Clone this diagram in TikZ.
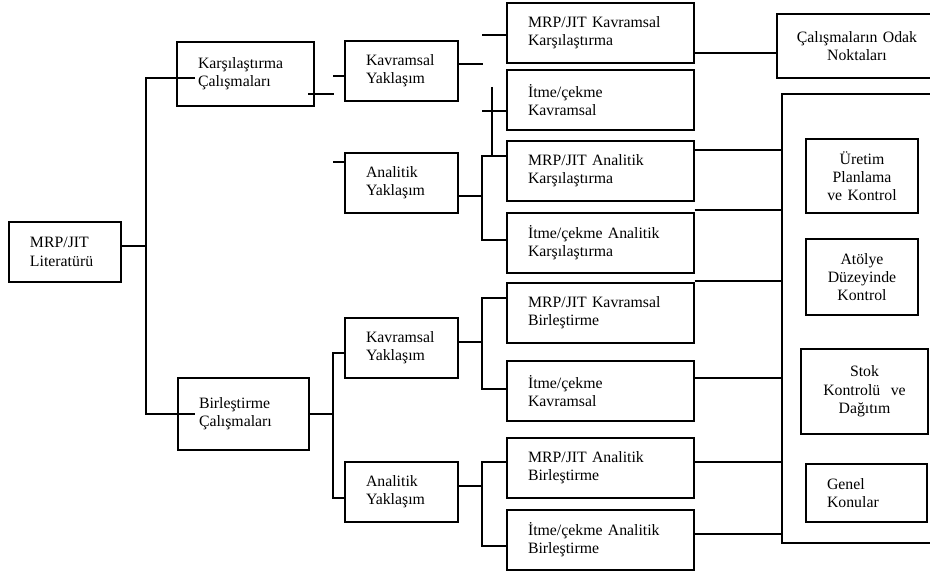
\documentclass[tikz,border=0pt]{standalone}
\usepackage{fontspec}
\setmainfont{Liberation Serif}
\usepackage{tikz}
\hyphenpenalty=10000

\tikzset{
  kutu/.style={draw, black, line width=1.4pt, inner xsep=21pt, align=left},
  orta/.style={draw, black, line width=1.4pt, inner xsep=4pt, align=center},
  hat/.style={black, line width=1.4pt}
}

\begin{document}
\begin{tikzpicture}[x=1pt, y=-1pt, font=\fontsize{15.8}{18.3}\selectfont]
\useasboundingbox (0,0) rectangle (930,572);

% kutular
\node[kutu, text width=70pt, minimum height=60pt] (lit) at (65,252) {MRP/JIT\\Literatürü};
\node[kutu, text width=95pt, minimum height=64pt] (kars) at (245.5,74) {Karşılaştırma\\Çalışmaları};
\node[kutu, text width=89pt, minimum height=72pt] (birl) at (243.5,414) {Birleştirme\\Çalışmaları};
\node[kutu, text width=71pt, minimum height=60pt] (kavA) at (401.5,71) {Kavramsal\\Yaklaşım};
\node[kutu, text width=71pt, minimum height=60pt] (anaA) at (401.5,183) {Analitik\\Yaklaşım};
\node[kutu, text width=71pt, minimum height=60pt] (kavB) at (401.5,348) {Kavramsal\\Yaklaşım};
\node[kutu, text width=71pt, minimum height=60pt] (anaB) at (401.5,492) {Analitik\\Yaklaşım};

\node[kutu, text width=145pt, minimum height=60pt] (kk) at (600.5,33) {MRP/JIT Kavramsal\\Karşılaştırma};
\node[kutu, text width=145pt, minimum height=60pt] (ik) at (600.5,100) {İtme/çekme\\Kavramsal};
\node[kutu, text width=145pt, minimum height=60pt] (ak) at (600.5,171) {MRP/JIT Analitik\\Karşılaştırma};
\node[kutu, text width=145pt, minimum height=60pt] (iak) at (600.5,243) {İtme/çekme Analitik\\Karşılaştırma};
\node[kutu, text width=145pt, minimum height=60pt] (kb) at (600.5,313) {MRP/JIT Kavramsal\\Birleştirme};
\node[kutu, text width=145pt, minimum height=60pt] (ikb) at (600.5,391) {İtme/çekme\\Kavramsal};
\node[kutu, text width=145pt, minimum height=60pt] (ab) at (600.5,468) {MRP/JIT Analitik\\Birleştirme};
\node[kutu, text width=145pt, minimum height=60pt] (iab) at (600.5,540) {İtme/çekme Analitik\\Birleştirme};

\node[orta, text width=152pt, minimum height=64pt] (odak) at (857,46) {Çalışmaların Odak\\Noktaları};
\node[orta, text width=104pt, minimum height=74pt] (ur) at (862,176) {Üretim\\Planlama\\ve Kontrol};
\node[orta, text width=104pt, minimum height=76pt] (at) at (862,277) {Atölye\\Düzeyinde\\Kontrol};
\node[orta, text width=119pt, minimum height=85pt] (st) at (864.5,391.5) {Stok\\Kontrolü\ \ ve\\Dağıtım};
\node[kutu, text width=79pt, minimum height=58pt] (gn) at (866.5,493) {Genel\\Konular};

% ana dallar
\draw[hat] (lit.east |- 0,246) -- (146,246);
\draw[hat] (195,78) -- (146,78) -- (146,414) -- (195,414);

% karsilastirma
\draw[hat] (308,94) -- (334,94);
\draw[hat] (333,76) -- (kavA.west |- 0,76);
\draw[hat] (333,162) -- (anaA.west |- 0,162);
\draw[hat] (kavA.east |- 0,64) -- (483,64);
\draw[hat] (482,35) -- (kk.west |- 0,35);
\draw[hat] (anaA.east |- 0,196) -- (482,196);
\draw[hat] (ak.west |- 0,156) -- (482,156) -- (482,240) -- (iak.west |- 0,240);
\draw[hat] (492,87) -- (492,156);
\draw[hat] (482,111) -- (ik.west |- 0,111);
\draw[hat] (kk.east |- 0,53) -- (odak.west |- 0,53);

% birlestirme
\draw[hat] (birl.east) -- (333,414);
\draw[hat] (kavB.west |- 0,353) -- (333,353) -- (333,498) -- (anaB.west |- 0,498);
\draw[hat] (kavB.east |- 0,342) -- (482,342);
\draw[hat] (kb.west |- 0,298) -- (482,298) -- (482,389) -- (ikb.west |- 0,389);
\draw[hat] (anaB.east |- 0,486) -- (482,486);
\draw[hat] (ab.west |- 0,462) -- (482,462) -- (482,546) -- (iab.west |- 0,546);

% sag parantez
\draw[hat] (ak.east |- 0,150) -- (782,150);
\draw[hat] (iak.east |- 0,210) -- (782,210);
\draw[hat] (kb.east |- 0,281) -- (782,281);
\draw[hat] (ikb.east |- 0,378) -- (782,378);
\draw[hat] (ab.east |- 0,462) -- (782,462);
\draw[hat] (iab.east |- 0,534) -- (782,534);
\draw[hat] (940,94) -- (782,94) -- (782,543) -- (940,543);
\end{tikzpicture}
\end{document}
